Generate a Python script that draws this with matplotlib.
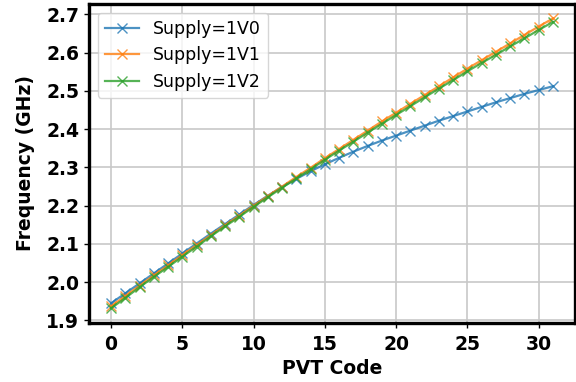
import matplotlib
matplotlib.use("Agg")
import matplotlib.pyplot as plt

pvt_code = list(range(32))

supply_1v0 = [1.945, 1.971, 1.997, 2.023, 2.049, 2.075, 2.101, 2.127, 2.152, 2.177,
              2.202, 2.226, 2.249, 2.270, 2.290, 2.308, 2.325, 2.341, 2.356, 2.370,
              2.383, 2.396, 2.409, 2.422, 2.434, 2.446, 2.458, 2.470, 2.481, 2.492,
              2.502, 2.512]
supply_1v1 = [1.937, 1.964, 1.991, 2.018, 2.044, 2.071, 2.097, 2.123, 2.149, 2.174,
              2.200, 2.225, 2.250, 2.275, 2.299, 2.324, 2.348, 2.372, 2.396, 2.420,
              2.443, 2.466, 2.489, 2.512, 2.535, 2.558, 2.580, 2.602, 2.624, 2.646,
              2.668, 2.689]
supply_1v2 = [1.932, 1.959, 1.987, 2.014, 2.040, 2.067, 2.093, 2.120, 2.146, 2.171,
              2.197, 2.222, 2.247, 2.271, 2.295, 2.320, 2.344, 2.367, 2.391, 2.414,
              2.437, 2.460, 2.483, 2.506, 2.528, 2.551, 2.573, 2.594, 2.616, 2.637,
              2.659, 2.680]

series_labels = ["Supply=1V0", "Supply=1V1", "Supply=1V2"]
xticks = [0, 5, 10, 15, 20, 25, 30]
yticks = [1.9, 2.0, 2.1, 2.2, 2.3, 2.4, 2.5, 2.6, 2.7]

fig = plt.figure(figsize=(5.76, 3.82), dpi=100)
ax = fig.add_axes([89/576, 1 - 322.7/382, (575 - 89)/576, (322.7 - 4)/382])

colors = ["#1f77b4", "#ff7f0e", "#2ca02c"]
for vals, lab, c in zip([supply_1v0, supply_1v1, supply_1v2], series_labels, colors):
    ax.plot(pvt_code, vals, marker="x", color=c, lw=1.6, markersize=6.5,
            alpha=0.8, label=lab)

ax.set_xticks(xticks)
ax.set_yticks(yticks)
ax.set_yticklabels([f"{v:.1f}" for v in yticks])
ax.grid(True, color="#c8c8c8", lw=1.2)
ax.set_axisbelow(True)

for s in ax.spines.values():
    s.set_linewidth(2.4)
    s.set_color("black")

ax.tick_params(axis="both", labelsize=13.5, width=1, length=3.5, color="black")
ax.tick_params(axis="x", pad=5)
for lbl in ax.get_xticklabels() + ax.get_yticklabels():
    lbl.set_fontweight("bold")

ax.set_xlabel("PVT Code", fontsize=13.5, fontweight="bold", labelpad=4)
ax.set_ylabel("Frequency (GHz)", fontsize=13.5, fontweight="bold", labelpad=8)

ax.legend(loc="upper left", fontsize=12.5, framealpha=0.8)

fig.savefig("out.png", dpi=100)
